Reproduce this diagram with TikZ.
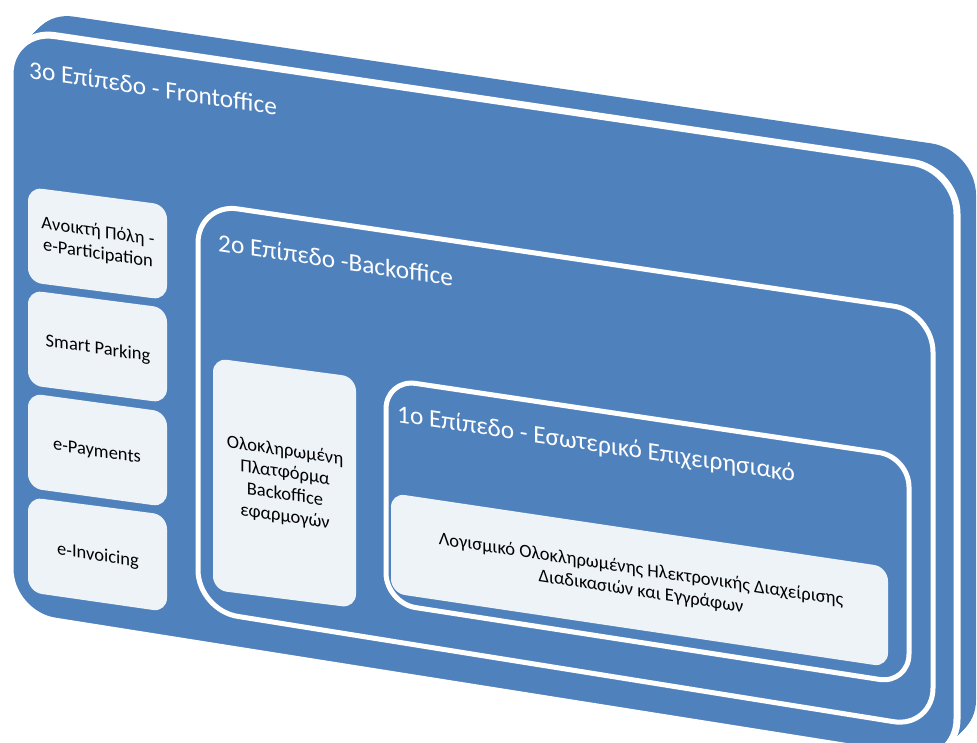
\documentclass[tikz,border=0pt]{standalone}
\usepackage{fontspec}
\setmainfont{Carlito}
\begin{document}
\begin{tikzpicture}[x=1pt,y=-1pt]
\definecolor{lvl}{HTML}{4F81BD}
\definecolor{cardfill}{HTML}{EEF3F8}
\tikzset{
  levelframe/.style={draw=white, line width=#1, fill=lvl},
  cardbox/.style={fill=cardfill, rounded corners=14pt},
  leveltitle/.style={text=white, inner sep=0pt, anchor=base west, yslant=-0.15, font=\fontsize{25.3}{29}\selectfont},
  boxtext/.style={text=black, inner sep=0pt, align=center, yslant=-0.15, font=\fontsize{18.5}{22}\selectfont}
}
\useasboundingbox (0,0) rectangle (977,742);
\clip (0,0) rectangle (977,742);
\def\frontpath{(10,29) -- (957,169) -- (957,764) -- (10,614) -- cycle}
% depth of the slab
\foreach \t in {0,0.05,...,1}
  \fill[lvl, rounded corners=45pt, shift={(20*\t,-20*\t)}] \frontpath;
% 3rd level
\draw[levelframe=7pt, rounded corners=45pt] \frontpath;
\node[leveltitle] (front-title) at (29,78) {3o Επίπεδο - Frontoffice};
\fill[cardbox] (28,187) -- (167,205) -- (167,300) -- (28,282) -- cycle;
\node[boxtext] (open-city) at (98,243) {Ανοικτή Πόλη -\\e-Participation};
\fill[cardbox] (28,290) -- (167,308) -- (167,403) -- (28,385) -- cycle;
\node[boxtext] (parking) at (98,349) {Smart Parking};
\fill[cardbox] (28,393) -- (167,412) -- (167,507) -- (28,488) -- cycle;
\node[boxtext] (payments) at (97,452) {e-Payments};
\fill[cardbox] (28,497) -- (167,515) -- (167,612) -- (28,592) -- cycle;
\node[boxtext] (invoicing) at (98,556) {e-Invoicing};
% 2nd level
\draw[levelframe=5pt, rounded corners=40pt] (198,203) -- (933,312) -- (933,728) -- (198,610) -- cycle;
\node[leveltitle] (back-title) at (218,251) {2o Επίπεδο -Backoffice};
\fill[cardbox] (213,358) -- (356,377) -- (356,608) -- (213,590) -- cycle;
\node[boxtext] (platform) at (285,484) {Ολοκληρωμένη\\Πλατφόρμα\\Backoffice\\εφαρμογών};
% 1st level
\draw[levelframe=5pt, rounded corners=30pt] (386,379) -- (909,457) -- (909,684) -- (386,603) -- cycle;
\node[leveltitle] (core-title) at (397,422) {1o Επίπεδο - Εσωτερικό Επιχειρησιακό};
\fill[cardbox] (391,493) -- (888,567) -- (888,667) -- (391,593) -- cycle;
\node[boxtext] (software) at (641,581) {Λογισμικό Ολοκληρωμένης Ηλεκτρονικής Διαχείρισης\\Διαδικασιών και Εγγράφων};
\end{tikzpicture}
\end{document}
